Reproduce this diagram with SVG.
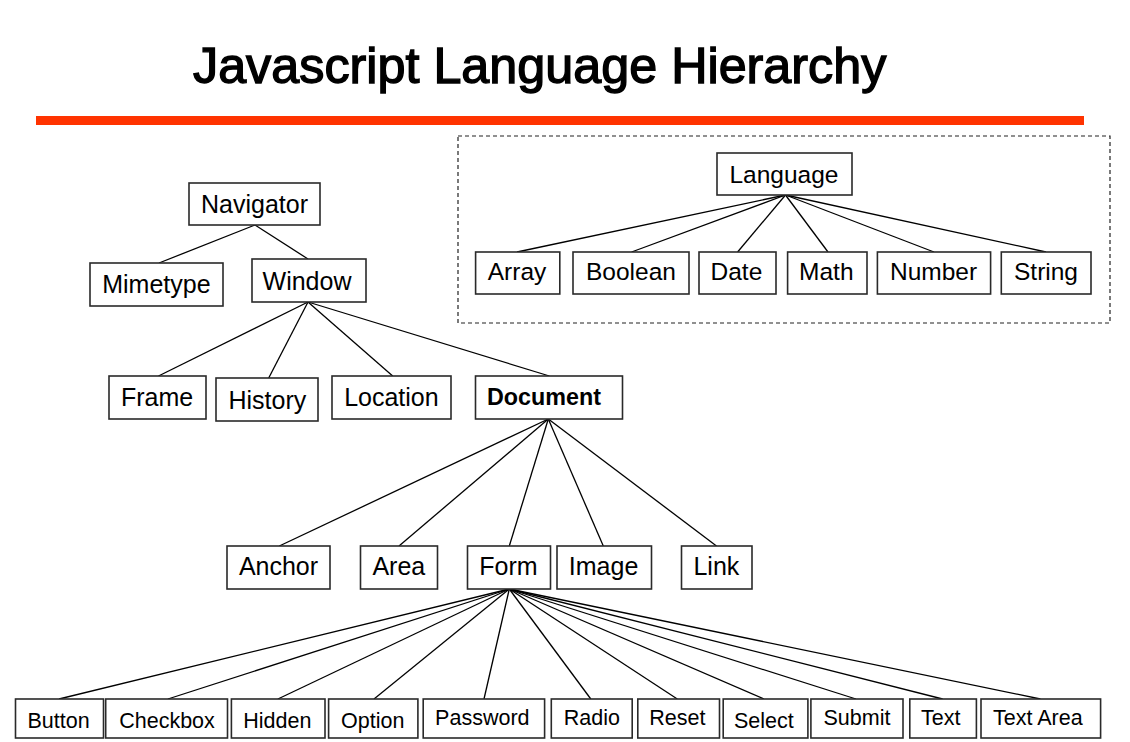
<svg xmlns="http://www.w3.org/2000/svg" width="1130" height="742" viewBox="0 0 1130 742">
<style>
  .box { fill: #ffffff; stroke: #2a2a2a; stroke-width: 1.6; }
  .lbl { font-family: "Liberation Sans", Arial, sans-serif; font-size: 25px; fill: #000; text-anchor: middle; }
  .lang { font-size: 24.5px; }
  .small { font-size: 21.5px; }
  .bold { font-weight: bold; font-size: 23.3px; }
  .conn line { stroke: #000; stroke-width: 1.3; }
  .title { font-family: "Liberation Sans", Arial, sans-serif; font-size: 50.3px; fill: #000; stroke: #000; stroke-width: 1.4; }
</style>
<rect width="1130" height="742" fill="#ffffff"/>
<text class="title" x="193" y="83">Javascript Language Hierarchy</text>
<rect x="36" y="116" width="1048" height="9" fill="#ff3300"/>
<rect x="458" y="136" width="652" height="187" fill="none" stroke="#222" stroke-width="1.2" stroke-dasharray="4,3"/>

<g class="conn" id="connectors">
  <line x1="255" y1="225" x2="159" y2="263"/>
  <line x1="255" y1="225" x2="308" y2="259"/>
  <line x1="308" y1="302" x2="158.5" y2="376"/>
  <line x1="308" y1="302" x2="268.7" y2="378"/>
  <line x1="308" y1="302" x2="392.7" y2="376"/>
  <line x1="308" y1="302" x2="549.4" y2="376"/>
  <line x1="548.3" y1="419" x2="279.3" y2="546"/>
  <line x1="548.3" y1="419" x2="399" y2="546"/>
  <line x1="548.3" y1="419" x2="509.3" y2="546"/>
  <line x1="548.3" y1="419" x2="603.3" y2="546"/>
  <line x1="548.3" y1="419" x2="716.5" y2="546"/>
  <line x1="509.3" y1="589" x2="59" y2="699"/>
  <line x1="509.3" y1="589" x2="167.9" y2="699"/>
  <line x1="509.3" y1="589" x2="277.9" y2="699"/>
  <line x1="509.3" y1="589" x2="374" y2="699"/>
  <line x1="509.3" y1="589" x2="484" y2="699"/>
  <line x1="509.3" y1="589" x2="590.8" y2="699"/>
  <line x1="509.3" y1="589" x2="677.3" y2="699"/>
  <line x1="509.3" y1="589" x2="763.9" y2="699"/>
  <line x1="509.3" y1="589" x2="856" y2="699"/>
  <line x1="509.3" y1="589" x2="942.6" y2="699"/>
  <line x1="509.3" y1="589" x2="1040.4" y2="699"/>
  <line x1="785.5" y1="195" x2="517" y2="252"/>
  <line x1="785.5" y1="195" x2="631.6" y2="252"/>
  <line x1="785.5" y1="195" x2="737.6" y2="252"/>
  <line x1="785.5" y1="195" x2="828" y2="252"/>
  <line x1="785.5" y1="195" x2="934" y2="252"/>
  <line x1="785.5" y1="195" x2="1046" y2="252"/>
</g>

<g id="navigator"><rect class="box" x="189" y="183" width="131" height="42"/><text class="lbl" x="254.5" y="213">Navigator</text></g>
<g id="mimetype"><rect class="box" x="90" y="263" width="133" height="43"/><text class="lbl" x="156.4" y="292.5">Mimetype</text></g>
<g id="window"><rect class="box" x="252" y="259" width="114" height="43"/><text class="lbl" x="307" y="289.5">Window</text></g>

<g id="frame"><rect class="box" x="109" y="376" width="97" height="43"/><text class="lbl" x="157" y="405.5">Frame</text></g>
<g id="history"><rect class="box" x="216" y="378" width="102" height="43"/><text class="lbl" x="267.4" y="408.5">History</text></g>
<g id="location"><rect class="box" x="332" y="376" width="119" height="43"/><text class="lbl" x="391.4" y="405.5">Location</text></g>
<g id="document"><rect class="box" x="475.5" y="376" width="147" height="43"/><text class="lbl bold" x="544" y="405">Document</text></g>

<g id="anchor"><rect class="box" x="227" y="546" width="103" height="43"/><text class="lbl" x="278.5" y="574.5">Anchor</text></g>
<g id="area"><rect class="box" x="360.5" y="546" width="77" height="43"/><text class="lbl" x="398.8" y="574.5">Area</text></g>
<g id="form"><rect class="box" x="467.5" y="546" width="83" height="43"/><text class="lbl" x="508.4" y="574.5">Form</text></g>
<g id="image"><rect class="box" x="557" y="546" width="94.5" height="43"/><text class="lbl" x="603.6" y="574.5">Image</text></g>
<g id="link"><rect class="box" x="681.5" y="546" width="70.5" height="43"/><text class="lbl" x="716.4" y="574.5">Link</text></g>

<g id="button"><rect class="box" x="15.5" y="699" width="88" height="39"/><text class="lbl small" x="58.6" y="727.5">Button</text></g>
<g id="checkbox"><rect class="box" x="105.7" y="699" width="121.8" height="39"/><text class="lbl small" x="167" y="727.5">Checkbox</text></g>
<g id="hidden"><rect class="box" x="231.4" y="699" width="93.6" height="39"/><text class="lbl small" x="277.3" y="727.5">Hidden</text></g>
<g id="option"><rect class="box" x="328.6" y="699" width="89.3" height="39"/><text class="lbl small" x="372.8" y="727.5">Option</text></g>
<g id="password"><rect class="box" x="423.2" y="699" width="121.4" height="39"/><text class="lbl small" x="482.3" y="725">Password</text></g>
<g id="radio"><rect class="box" x="551.3" y="699" width="80.9" height="39"/><text class="lbl small" x="591.8" y="725">Radio</text></g>
<g id="reset"><rect class="box" x="637.8" y="699" width="81.7" height="39"/><text class="lbl small" x="677.3" y="725">Reset</text></g>
<g id="select"><rect class="box" x="723.2" y="699" width="84.7" height="39"/><text class="lbl small" x="763.9" y="727.5">Select</text></g>
<g id="submit"><rect class="box" x="810.9" y="699" width="92.1" height="39"/><text class="lbl small" x="857" y="725">Submit</text></g>
<g id="text"><rect class="box" x="909.8" y="699" width="66.6" height="39"/><text class="lbl small" x="940.8" y="725">Text</text></g>
<g id="textarea"><rect class="box" x="981" y="699" width="119.6" height="39"/><text class="lbl small" x="1037.8" y="725">Text Area</text></g>

<g id="language"><rect class="box" x="717" y="153" width="135" height="42"/><text class="lbl lang" x="784" y="183">Language</text></g>
<g id="array"><rect class="box" x="475.6" y="252" width="84.2" height="42"/><text class="lbl lang" x="517" y="280">Array</text></g>
<g id="boolean"><rect class="box" x="573" y="252" width="116" height="42"/><text class="lbl lang" x="631" y="280">Boolean</text></g>
<g id="date"><rect class="box" x="699" y="252" width="77" height="42"/><text class="lbl lang" x="736.4" y="280">Date</text></g>
<g id="math"><rect class="box" x="787.6" y="252" width="79.4" height="42"/><text class="lbl lang" x="826.3" y="280">Math</text></g>
<g id="number"><rect class="box" x="877.4" y="252" width="113.2" height="42"/><text class="lbl lang" x="933.6" y="280">Number</text></g>
<g id="string"><rect class="box" x="1001.3" y="252" width="89.7" height="42"/><text class="lbl lang" x="1046" y="280">String</text></g>
</svg>
